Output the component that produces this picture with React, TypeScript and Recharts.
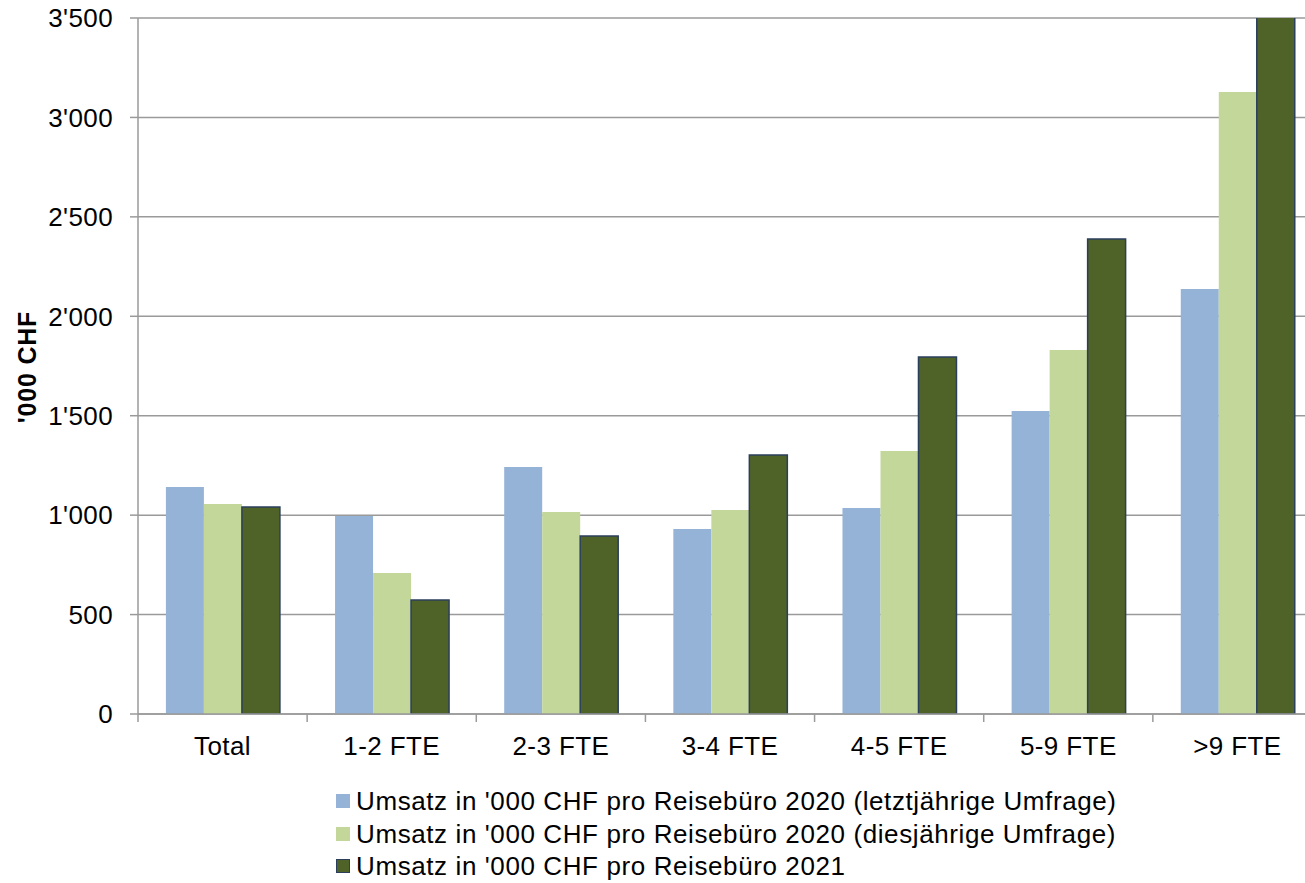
import { BarChart, Bar, XAxis, YAxis, CartesianGrid, Legend, Label } from "recharts";

// Umsatz pro Reisebüro nach Betriebsgrösse ('000 CHF)
const categories = ["Total", "1-2 FTE", "2-3 FTE", "3-4 FTE", "4-5 FTE", "5-9 FTE", ">9 FTE"];
const umsatz2020Letzt = [1141, 996, 1242, 930, 1036, 1524, 2137];
const umsatz2020Dies = [1056, 709, 1016, 1026, 1323, 1830, 3128];
const umsatz2021 = [1041, 573, 895, 1302, 1795, 2389, 3650];
const yTicks = [0, 500, 1000, 1500, 2000, 2500, 3000, 3500];

const series = [
  { key: "letzt", name: "Umsatz in '000 CHF pro Reisebüro 2020 (letztjährige Umfrage)", fill: "#95B3D7", stroke: "none" },
  { key: "dies", name: "Umsatz in '000 CHF pro Reisebüro 2020 (diesjährige Umfrage)", fill: "#C4D79B", stroke: "none" },
  { key: "y2021", name: "Umsatz in '000 CHF pro Reisebüro 2021", fill: "#4F6228", stroke: "#2B3F5C" },
];

const data = categories.map((name, i) => ({
  name,
  letzt: umsatz2020Letzt[i],
  dies: umsatz2020Dies[i],
  y2021: umsatz2021[i],
}));

const FONT = "'Liberation Sans', Arial, sans-serif";
const tickStyle = { fill: "#000", fontSize: 26, fontFamily: FONT, letterSpacing: 0.4 };
const GRID = "#9a9a9a";

function formatThousands(v: number) {
  if (v < 1000) return String(v);
  return `${Math.floor(v / 1000)}'${String(v % 1000).padStart(3, "0")}`;
}

// category label plus tick marks on the band edges (Excel style)
function CategoryTick(props: any) {
  const { x, y, payload, width, visibleTicksCount, index } = props;
  const band = width / visibleTicksCount;
  const axisY = y - 23;
  const left = x - band / 2;
  return (
    <g>
      <line x1={left} x2={left} y1={axisY} y2={axisY + 8} stroke={GRID} strokeWidth={1.5} />
      {index === visibleTicksCount - 1 && (
        <line x1={left + band} x2={left + band} y1={axisY} y2={axisY + 8} stroke={GRID} strokeWidth={1.5} />
      )}
      <text x={x} y={y} dy="0.71em" textAnchor="middle" {...tickStyle}>
        {payload.value}
      </text>
    </g>
  );
}

function LegendBox() {
  return (
    <div style={{ fontFamily: FONT, fontSize: 26, letterSpacing: 0.6, color: "#000", lineHeight: 1 }}>
      {series.map((s) => (
        <div key={s.key} style={{ display: "flex", alignItems: "center", height: 32.5 }}>
          <span
            style={{
              display: "inline-block",
              width: s.stroke === "none" ? 14 : 12,
              height: s.stroke === "none" ? 14 : 12,
              background: s.fill,
              border: s.stroke === "none" ? "none" : `1px solid ${s.stroke}`,
              marginRight: 6,
            }}
          />
          <span>{s.name}</span>
        </div>
      ))}
    </div>
  );
}

export default function App() {
  return (
    <div style={{ position: "absolute", left: 0, top: 0, width: 1305, height: 883, overflow: "hidden", background: "#fff" }}>
      <BarChart
        width={1322}
        height={883}
        data={data}
        margin={{ top: 18, right: 0, left: 0, bottom: 14 }}
        barCategoryGap="16.5%"
        barGap={0}
      >
        <CartesianGrid vertical={false} stroke={GRID} strokeWidth={1.5} />
        <XAxis
          dataKey="name"
          axisLine={{ stroke: GRID, strokeWidth: 1.5 }}
          tickLine={false}
          tickSize={0}
          tickMargin={23}
          tick={<CategoryTick />}
          interval={0}
          height={50}
        />
        <YAxis
          width={138}
          domain={[0, 3500]}
          ticks={yTicks}
          allowDataOverflow
          tickFormatter={formatThousands}
          axisLine={{ stroke: GRID, strokeWidth: 1.5 }}
          tickLine={{ stroke: GRID, strokeWidth: 1.5 }}
          tickSize={8}
          tickMargin={17}
          tick={tickStyle}
        >
          <Label
            content={() => (
              <text
                x={36}
                y={367}
                transform="rotate(-90 36 367)"
                textAnchor="middle"
                fontFamily={FONT}
                fontSize={25}
                fontWeight="bold"
                letterSpacing={0.8}
                fill="#000"
              >
                '000 CHF
              </text>
            )}
          />
        </YAxis>
        <Legend
          verticalAlign="bottom"
          height={105}
          content={() => <LegendBox />}
          wrapperStyle={{ left: 336, top: 785, width: 960 }}
        />
        {series.map((s) => (
          <Bar
            key={s.key}
            dataKey={s.key}
            name={s.name}
            fill={s.fill}
            stroke={s.stroke}
            strokeWidth={s.stroke === "none" ? 0 : 1.5}
            isAnimationActive={false}
          />
        ))}
      </BarChart>
    </div>
  );
}
